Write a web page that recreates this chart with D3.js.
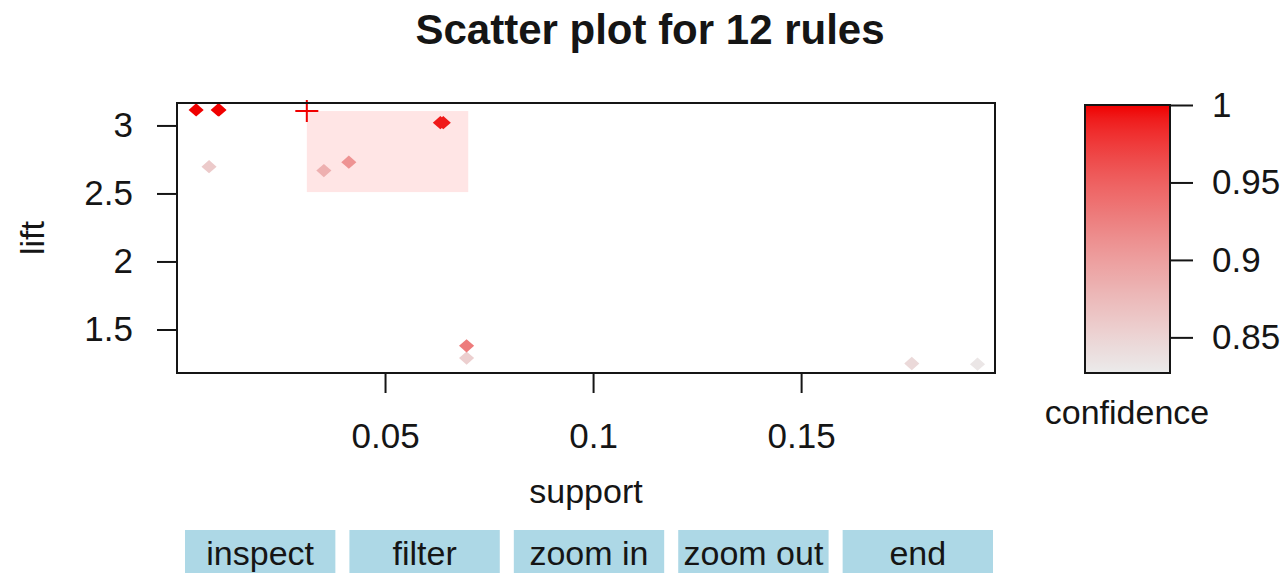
<!DOCTYPE html>
<html>
<head>
<meta charset="utf-8">
<script src="https://cdn.jsdelivr.net/npm/d3@7"></script>
<style>
  html, body { margin: 0; padding: 0; background: #fff; }
  svg { display: block; font-family: "Liberation Sans", Arial, sans-serif; }
</style>
</head>
<body>
<svg id="chart" width="1286" height="576"></svg>
<script>
// Rules: support, lift, confidence
const support    = [0.0046, 0.0099, 0.0633, 0.0640, 0.0077, 0.0353, 0.0413, 0.0696, 0.0696, 0.1766, 0.1924, 0.0101];
const lift       = [3.114, 3.114, 3.020, 3.020, 2.697, 2.668, 2.730, 1.380, 1.290, 1.250, 1.245, 3.114];
const confidence = [1.000, 1.000, 0.990, 0.990, 0.860, 0.865, 0.895, 0.930, 0.855, 0.845, 0.832, 1.000];

// Current selection box (first corner marked with a cross)
const selSupport = [0.0312, 0.0700];
const selLift    = [3.106, 2.510];

const xTicks = [0.05, 0.1, 0.15];
const yTicks = [1.5, 2, 2.5, 3];
const legendTicks = [0.85, 0.9, 0.95, 1];
const buttons = ["inspect", "filter", "zoom in", "zoom out", "end"];

const svg = d3.select("#chart");
const ink = "#151515";
const font = "\"Liberation Sans\", Arial, sans-serif";

const x = d3.scaleLinear().domain([0, 0.1966]).range([177, 995]);
const y = d3.scaleLinear().domain([1.180, 3.165]).range([373, 103]);

// grey -> red ramp for confidence
const grey = "#ebebeb", red = "#f00000";
const ramp = d3.interpolateRgb(grey, red);
const confDomain = [0.827, 1.0];
const color = d3.scaleSequential(t => ramp(1 - Math.pow(1 - t, 0.72))).domain(confDomain);

// Title
svg.append("text")
  .attr("x", 650).attr("y", 44)
  .attr("text-anchor", "middle")
  .attr("font-size", 42).attr("font-weight", "bold")
  .attr("fill", ink)
  .text("Scatter plot for 12 rules");

// Points (filled diamonds)
const diamond = "M0,-7L7,0L0,7L-7,0Z";
const plot = svg.append("g");
plot.append("defs").append("clipPath").attr("id", "clip")
  .append("rect").attr("x", 177).attr("y", 103).attr("width", 818).attr("height", 270);

const pts = plot.append("g").attr("clip-path", "url(#clip)");
const order = d3.range(support.length).sort((a, b) => confidence[a] - confidence[b]);
pts.selectAll("path.pt").data(order).join("path")
  .attr("class", "pt")
  .attr("d", diamond)
  .attr("transform", i => `translate(${x(support[i])},${y(lift[i])}) scale(1.08,0.95)`)
  .attr("fill", i => color(confidence[i]));

// Selection rectangle
pts.append("rect")
  .attr("x", x(selSupport[0])).attr("y", y(selLift[0]))
  .attr("width", x(selSupport[1]) - x(selSupport[0]))
  .attr("height", y(selLift[1]) - y(selLift[0]))
  .attr("fill", "#ff0000").attr("fill-opacity", 0.1);

// Cross at the selection's first corner
const cx = x(selSupport[0]), cy = y(selLift[0]);
svg.append("path")
  .attr("d", `M${cx - 11.5},${cy}H${cx + 11.5}M${cx},${cy - 11}V${cy + 11}`)
  .attr("stroke", "#f00000").attr("stroke-width", 2).attr("fill", "none");

// Plot box
svg.append("rect")
  .attr("x", 177).attr("y", 103).attr("width", 818).attr("height", 270)
  .attr("fill", "none").attr("stroke", ink).attr("stroke-width", 2);

// Axes
const xAxis = svg.append("g").attr("transform", "translate(0,373)")
  .call(d3.axisBottom(x).tickValues(xTicks).tickFormat(d => String(d)).tickSize(20).tickPadding(30));
const yAxis = svg.append("g").attr("transform", "translate(177,0)")
  .call(d3.axisLeft(y).tickValues(yTicks).tickFormat(d => String(d)).tickSize(20).tickPadding(24));
[xAxis, yAxis].forEach(g => {
  g.select(".domain").remove();
  g.selectAll("line").attr("stroke", ink).attr("stroke-width", 2);
  g.selectAll("text").attr("font-size", 35).attr("fill", ink).attr("font-family", font);
});

// Axis titles
svg.append("text")
  .attr("x", 586).attr("y", 503).attr("text-anchor", "middle")
  .attr("font-size", 34).attr("fill", ink).text("support");
svg.append("text")
  .attr("transform", "translate(44,238) rotate(-90)")
  .attr("text-anchor", "middle")
  .attr("font-size", 34).attr("fill", ink).text("lift");

// Confidence legend
const ly = d3.scaleLinear().domain(confDomain).range([373, 105]);
const grad = svg.append("defs").append("linearGradient")
  .attr("id", "confGrad").attr("x1", 0).attr("y1", 1).attr("x2", 0).attr("y2", 0);
d3.range(0, 1.0001, 0.05).forEach(t => {
  grad.append("stop").attr("offset", t)
    .attr("stop-color", color(confDomain[0] + t * (confDomain[1] - confDomain[0])));
});
svg.append("rect")
  .attr("x", 1085).attr("y", 105).attr("width", 85).attr("height", 268)
  .attr("fill", "url(#confGrad)").attr("stroke", ink).attr("stroke-width", 2);
const lAxis = svg.append("g").attr("transform", "translate(1170,0)")
  .call(d3.axisRight(ly).tickValues(legendTicks).tickFormat(d => String(d)).tickSize(23).tickPadding(19));
lAxis.select(".domain").remove();
lAxis.selectAll("line").attr("stroke", ink).attr("stroke-width", 2);
lAxis.selectAll("text").attr("font-size", 35).attr("fill", ink).attr("font-family", font);
svg.append("text")
  .attr("x", 1127).attr("y", 424).attr("text-anchor", "middle")
  .attr("font-size", 34).attr("fill", ink).text("confidence");

// Interaction buttons
const bx = d3.scaleBand().domain(buttons).range([185, 993]).paddingInner(0.0854);
const btn = svg.append("g").selectAll("g").data(buttons).join("g")
  .attr("transform", d => `translate(${bx(d)},530)`);
btn.append("rect")
  .attr("width", bx.bandwidth()).attr("height", 43)
  .attr("fill", "#add8e6");
btn.append("text")
  .attr("x", bx.bandwidth() / 2).attr("y", 35)
  .attr("text-anchor", "middle")
  .attr("font-size", 34).attr("fill", ink)
  .text(d => d);
</script>
</body>
</html>
